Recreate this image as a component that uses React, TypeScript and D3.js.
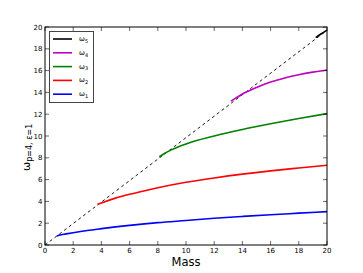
import React from "react";
import * as d3 from "d3";

const W = 363;
const H = 273;
const M = { left: 45, right: 36, top: 27, bottom: 28 };

const xTicks = [0, 2, 4, 6, 8, 10, 12, 14, 16, 18, 20];
const yTicks = [0, 2, 4, 6, 8, 10, 12, 14, 16, 18, 20];

// omega_1 (blue)
const w1Mass = [0.85, 1, 1.5, 2, 3, 4, 5, 6, 8, 10, 12, 14, 16, 18, 20];
const w1Val = [0.83, 0.9, 1.02, 1.13, 1.33, 1.5, 1.66, 1.8, 2.05, 2.25, 2.45, 2.62, 2.78, 2.92, 3.06];
// omega_2 (red)
const w2Mass = [3.73, 4, 5, 6, 7, 8, 10, 12, 14, 16, 18, 20];
const w2Val = [3.73, 3.86, 4.3, 4.65, 4.96, 5.25, 5.75, 6.15, 6.5, 6.8, 7.06, 7.31];
// omega_3 (green)
const w3Mass = [8.11, 8.5, 9, 10, 12, 14, 16, 18, 20];
const w3Val = [8.1, 8.42, 8.75, 9.27, 10.0, 10.6, 11.12, 11.6, 12.05];
// omega_4 (magenta)
const w4Mass = [13.19, 13.5, 14, 15, 16, 17, 18, 19, 20];
const w4Val = [13.2, 13.45, 13.85, 14.45, 14.95, 15.32, 15.62, 15.86, 16.06];
// omega_5 (black)
const w5Mass = [19.2, 19.6, 20];
const w5Val = [19.02, 19.38, 19.72];
// dashed reference line
const refMass = [0, 20];
const refVal = [0, 19.7];

const series = [
  { key: "5", mass: w5Mass, val: w5Val, color: "#000000" },
  { key: "4", mass: w4Mass, val: w4Val, color: "#bf00bf" },
  { key: "3", mass: w3Mass, val: w3Val, color: "#008000" },
  { key: "2", mass: w2Mass, val: w2Val, color: "#ff0000" },
  { key: "1", mass: w1Mass, val: w1Val, color: "#0000ff" },
];

export default function App() {
  const x = d3.scaleLinear().domain([0, 20]).range([M.left, W - M.right]);
  const y = d3.scaleLinear().domain([0, 20]).range([H - M.bottom, M.top]);
  const line = d3
    .line<[number, number]>()
    .x((d) => x(d[0]))
    .y((d) => y(d[1]))
    .curve(d3.curveMonotoneX);
  const zip = (a: number[], b: number[]) => a.map((v, i) => [v, b[i]] as [number, number]);
  const x0 = x(0), x1 = x(20), y0 = y(0), y1 = y(20);
  const tl = 4;
  const font = "DejaVu Sans, sans-serif";

  return (
    <svg width={W} height={H} style={{ position: "absolute", left: 0, top: 0, background: "#fff" }} fontFamily={font}>
      <rect x={0} y={0} width={W} height={H} fill="#fff" />
      <path
        d={line(zip(refMass, refVal)) || ""}
        fill="none"
        stroke="#000"
        strokeWidth={0.9}
        strokeDasharray="3,3"
      />
      {series.map((s) => (
        <path
          key={s.key}
          d={line(zip(s.mass, s.val)) || ""}
          fill="none"
          stroke={s.color}
          strokeWidth={1.6}
        />
      ))}
      {/* ticks */}
      {xTicks.map((t) => (
        <g key={"x" + t}>
          <line x1={x(t)} x2={x(t)} y1={y0} y2={y0 - tl} stroke="#000" strokeWidth={0.6} />
          <line x1={x(t)} x2={x(t)} y1={y1} y2={y1 + tl} stroke="#000" strokeWidth={0.6} />
          <text x={x(t)} y={y0 + 8} fontSize={7} textAnchor="middle" fill="#000">
            {t}
          </text>
        </g>
      ))}
      {yTicks.map((t) => (
        <g key={"y" + t}>
          <line x1={x0} x2={x0 + tl} y1={y(t)} y2={y(t)} stroke="#000" strokeWidth={0.6} />
          <line x1={x1} x2={x1 - tl} y1={y(t)} y2={y(t)} stroke="#000" strokeWidth={0.6} />
          <text x={x0 - 2.5} y={y(t) + 2.5} fontSize={7} textAnchor="end" fill="#000">
            {t}
          </text>
        </g>
      ))}
      <rect x={x0} y={y1} width={x1 - x0} height={y0 - y1} fill="none" stroke="#000" strokeWidth={1} />
      {/* legend */}
      <rect x={49.5} y={31.5} width={44} height={71} fill="#fff" stroke="#444" strokeWidth={1} />
      {series.map((s, i) => {
        const ly = 39 + i * 13.8;
        return (
          <g key={"l" + s.key}>
            <line x1={53} x2={72} y1={ly} y2={ly} stroke={s.color} strokeWidth={1.6} />
            <text x={79} y={ly + 2} fontSize={7} fill="#000">
              ω<tspan fontSize={5} dy={1.8}>{s.key}</tspan>
            </text>
          </g>
        );
      })}
      {/* axis labels */}
      <text x={(x0 + x1) / 2} y={265.5} fontSize={11.5} textAnchor="middle" fill="#000">
        Mass
      </text>
      <text
        transform={`translate(29.5,171) rotate(-90)`}
        fontSize={11}
        textAnchor="start"
        fill="#000"
      >
        ω<tspan fontSize={8} dy={2.5}>p=4, ε=1</tspan>
      </text>
    </svg>
  );
}
